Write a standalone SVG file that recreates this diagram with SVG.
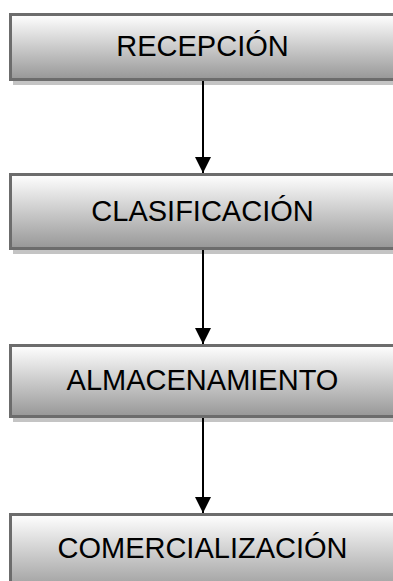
<svg xmlns="http://www.w3.org/2000/svg" width="393" height="581" viewBox="0 0 393 581">
<defs>
<linearGradient id="g" x1="0" y1="0" x2="0" y2="1">
<stop offset="0" stop-color="#ffffff"/>
<stop offset="1" stop-color="#979797"/>
</linearGradient>
<marker id="arr" markerUnits="userSpaceOnUse" markerWidth="16" markerHeight="16" refX="16" refY="8" orient="auto">
<path d="M0,0 L16,8 L0,16 Z" fill="#000"/>
</marker>
</defs>
<style>
.sh{fill:#c4c4c4}
.bx{fill:url(#g);stroke:#6c6c6c;stroke-width:3}
.tx{font-family:"Liberation Sans",Arial,sans-serif;font-size:29px;fill:#000;text-anchor:middle}
.cn{stroke:#000;stroke-width:2;fill:none}
</style>
<g id="n1">
<rect class="sh" x="13" y="19" width="390" height="66"/>
<rect class="bx" x="10.5" y="14.5" width="390" height="65"/>
<text class="tx" x="202.5" y="56">RECEPCIÓN</text>
</g>
<g id="n2">
<rect class="sh" x="13" y="179" width="390" height="75"/>
<rect class="bx" x="10.5" y="174.5" width="390" height="74"/>
<text class="tx" x="202.5" y="221">CLASIFICACIÓN</text>
</g>
<g id="n3">
<rect class="sh" x="13" y="350" width="390" height="72"/>
<rect class="bx" x="10.5" y="345.5" width="390" height="71"/>
<text class="tx" x="202.5" y="390">ALMACENAMIENTO</text>
</g>
<g id="n4">
<rect class="sh" x="13" y="519" width="390" height="80"/>
<rect class="bx" x="10.5" y="514.5" width="390" height="80"/>
<text class="tx" x="202.5" y="558">COMERCIALIZACIÓN</text>
</g>
<g id="connectors">
<line class="cn" x1="203" y1="81" x2="203" y2="173" marker-end="url(#arr)"/>
<line class="cn" x1="203" y1="250" x2="203" y2="344" marker-end="url(#arr)"/>
<line class="cn" x1="203" y1="418" x2="203" y2="513" marker-end="url(#arr)"/>
</g>
</svg>
